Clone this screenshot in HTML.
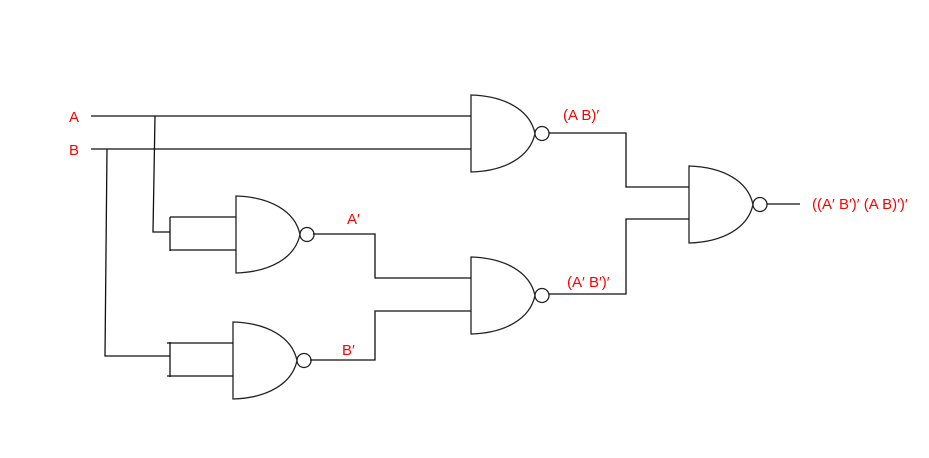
<!DOCTYPE html>
<html><head><style>html,body{margin:0;padding:0;background:#fff;width:929px;height:458px;overflow:hidden}</style></head>
<body>
<svg width="929" height="458" xmlns="http://www.w3.org/2000/svg" font-family="Liberation Sans, sans-serif">
<defs>
<g id="nand">
<path d="M0,0 C34,1 59,15 64,38.5 C59,62 34,76 0,77 Z" fill="none" stroke="#222" stroke-width="1.3"/>
<circle cx="71" cy="38.5" r="7" fill="#fff" stroke="#222" stroke-width="1.3"/>
</g>
</defs>
<g fill="none" stroke="#111" stroke-width="1.3">
<use href="#nand" x="471" y="95"/>
<use href="#nand" x="471" y="257"/>
<use href="#nand" x="689" y="166"/>
<use href="#nand" x="236" y="196"/>
<use href="#nand" x="233" y="322"/>
<path d="M91,116 H471 M91,149 H471"/>
<path d="M155,116 L153,232 H170 M170,217 V251 M170,217 H236 M170,250 H236"/>
<path d="M107,149 L105,356 H170 M170,342 V377 M167,343 H233 M167,376 H233"/>
<path d="M313,234 H375 V278 H471"/>
<path d="M310,360 H375 V311 H471"/>
<path d="M549,133 H626 V187 H689"/>
<path d="M549,294 H626 V219 H689"/>
<path d="M767,204 H800"/>
</g>
<g fill="#f00" font-size="15">
<text x="69" y="122">A</text>
<text x="69" y="155">B</text>
<text x="347" y="224">A′</text>
<text x="342" y="355">B′</text>
<text x="563" y="120">(A B)′</text>
<text x="567" y="287">(A′ B′)′</text>
<text x="812" y="209">((A′ B′)′ (A B)′)′</text>
</g>
</svg>
</body></html>
